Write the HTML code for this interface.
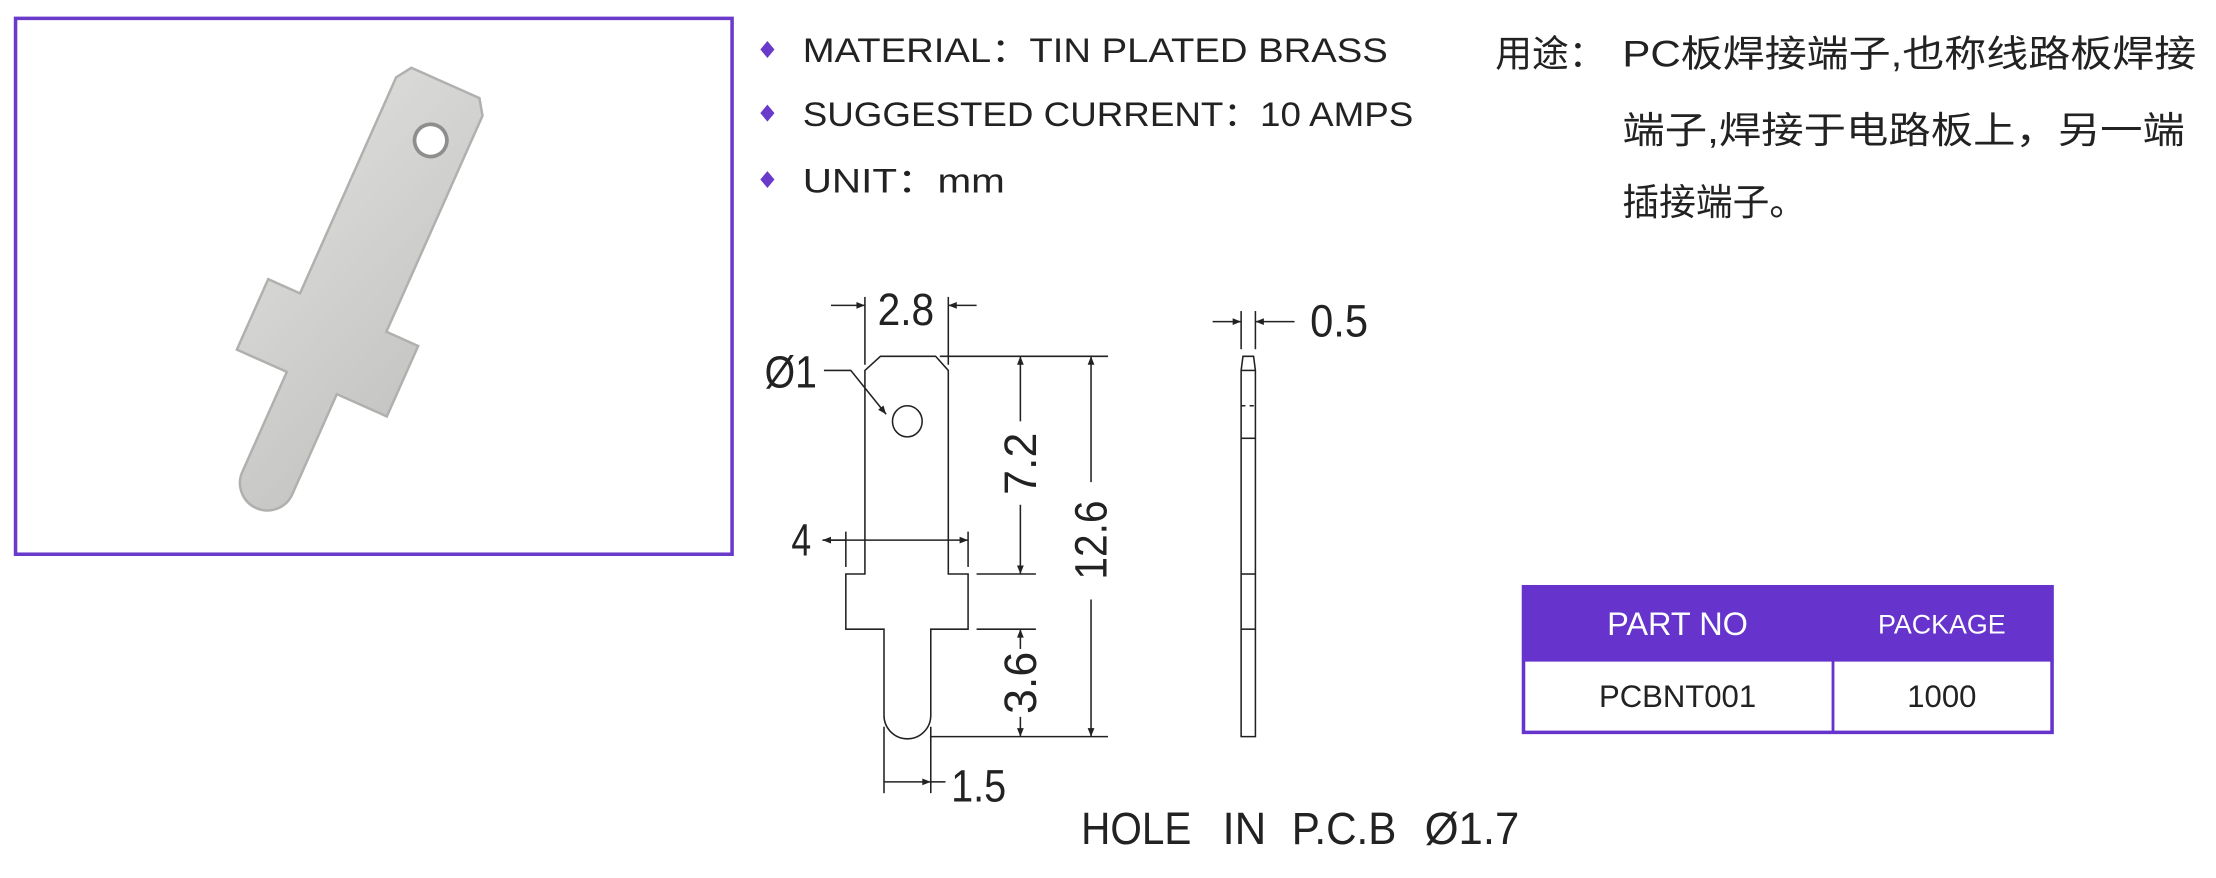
<!DOCTYPE html>
<html><head><meta charset="utf-8"><style>
html,body{margin:0;padding:0;background:#fff;}
svg{display:block;}
</style></head><body>
<svg width="2216" height="878" viewBox="0 0 1568 621" preserveAspectRatio="none" xmlns="http://www.w3.org/2000/svg">
<defs>
<marker id="ar" viewBox="0 0 10 10" refX="10" refY="5" markerWidth="10" markerHeight="6" orient="auto-start-reverse" markerUnits="userSpaceOnUse"><path d="M0,1 L10,5 L0,9 z" fill="#222"/></marker>
<linearGradient id="mg" x1="0" y1="0" x2="1" y2="1"><stop offset="0" stop-color="#dcdcda"/><stop offset="1" stop-color="#c2c2c0"/></linearGradient>
</defs>
<rect x="0" y="0" width="1568" height="621" fill="#fff"/>
<rect x="11" y="13" width="507" height="379" fill="#fff" stroke="#6a3acb" stroke-width="2.5"/>
<g transform="translate(250,205) rotate(24) scale(0.88)">
<path d="M-30,-182 L30,-182 L38,-170 L38,20 L66,20 L66,82 L22,82 L22,170 A22,22 0 0 1 -22,170 L-22,82 L-66,82 L-66,20 L-38,20 L-38,-170 Z" fill="url(#mg)" stroke="#b0b0ae" stroke-width="2"/>
<circle cx="8" cy="-135" r="13" fill="#fff" stroke="#8e8e8c" stroke-width="3"/>
</g>
<g font-family="Liberation Sans, sans-serif" font-size="24" fill="#222">
<path d="M543,29 l5,6 l-5,6 l-5,-6z" fill="#6a3acb"/>
<text x="568" y="44" textLength="414" lengthAdjust="spacingAndGlyphs">MATERIAL：TIN PLATED BRASS</text>
<path d="M543,74 l5,6 l-5,6 l-5,-6z" fill="#6a3acb"/>
<text x="568" y="89" textLength="432" lengthAdjust="spacingAndGlyphs">SUGGESTED CURRENT：10 AMPS</text>
<path d="M543,121 l5,6 l-5,6 l-5,-6z" fill="#6a3acb"/>
<text x="568" y="136" textLength="143" lengthAdjust="spacingAndGlyphs">UNIT：mm</text>
</g>
<g font-family="Liberation Sans, 'Noto Sans CJK SC', sans-serif" font-size="26" fill="#222">
<text x="1058" y="47">用途：</text>
<text x="1148" y="47" textLength="406" lengthAdjust="spacingAndGlyphs">PC板焊接端子,也称线路板焊接</text>
<text x="1148" y="101" textLength="398" lengthAdjust="spacingAndGlyphs">端子,焊接于电路板上，另一端</text>
<text x="1148" y="152">插接端子。</text>
</g>
<rect x="1078" y="415" width="374" height="52" fill="#6633cc"/>
<rect x="1078" y="415" width="374" height="103" fill="none" stroke="#6633cc" stroke-width="2.5"/>
<line x1="1078" y1="467" x2="1452" y2="467" stroke="#6633cc" stroke-width="2"/>
<line x1="1297" y1="467" x2="1297" y2="518" stroke="#6633cc" stroke-width="2"/>
<g font-family="Liberation Sans, sans-serif" text-anchor="middle">
<text x="1187" y="449" font-size="23" fill="#fff">PART NO</text>
<text x="1374" y="448" font-size="19" fill="#fff">PACKAGE</text>
<text x="1187" y="500" font-size="22" fill="#222">PCBNT001</text>
<text x="1374" y="500" font-size="22" fill="#222">1000</text>
</g>
<g stroke="#222" stroke-width="1.1" fill="none">
<path d="M623,252 L662,252 L671,262 L671,406 L685,406 L685,445 L658.6,445 L658.6,506 A16.5,16.5 0 0 1 625.5,506 L625.5,445 L598.5,445 L598.5,406 L612,406 L612,262 Z"/>
<ellipse cx="642" cy="298" rx="10.5" ry="11"/>
<polyline points="583,262 602,262 627,293" marker-end="url(#ar)"/>
<line x1="612" y1="210" x2="612" y2="258"/>
<line x1="671" y1="210" x2="671" y2="258"/>
<line x1="588" y1="216" x2="612" y2="216" marker-end="url(#ar)"/>
<line x1="691" y1="216" x2="671" y2="216" marker-end="url(#ar)"/>
<line x1="665" y1="252" x2="784" y2="252"/>
<line x1="691" y1="406" x2="733" y2="406"/>
<line x1="691" y1="445" x2="733" y2="445"/>
<line x1="658" y1="521" x2="784" y2="521"/>
<line x1="722" y1="252" x2="722" y2="298" marker-start="url(#ar)"/>
<line x1="722" y1="357" x2="722" y2="406" marker-end="url(#ar)"/>
<line x1="772" y1="252" x2="772" y2="341" marker-start="url(#ar)"/>
<line x1="772" y1="424" x2="772" y2="521" marker-end="url(#ar)"/>
<line x1="722" y1="445" x2="722" y2="459" marker-start="url(#ar)"/>
<line x1="722" y1="507" x2="722" y2="521" marker-end="url(#ar)"/>
<line x1="598.5" y1="376" x2="598.5" y2="401"/>
<line x1="685" y1="376" x2="685" y2="401"/>
<line x1="582" y1="382" x2="612" y2="382" marker-start="url(#ar)"/>
<line x1="612" y1="382" x2="685" y2="382" marker-end="url(#ar)"/>
<line x1="582" y1="382" x2="598.5" y2="382"/>
<line x1="625.5" y1="514" x2="625.5" y2="561"/>
<line x1="658.6" y1="514" x2="658.6" y2="561"/>
<line x1="625.5" y1="553" x2="658.6" y2="553" marker-end="url(#ar)"/>
<line x1="658.6" y1="553" x2="669" y2="553"/>
<path d="M879.5,252 L887,252 L888.3,262 L888.3,521 L878.2,521 L878.2,262 Z"/>
<line x1="878.2" y1="262" x2="888.3" y2="262"/>
<line x1="878.2" y1="287" x2="888.3" y2="287" stroke-dasharray="3,3"/>
<line x1="878.2" y1="310" x2="888.3" y2="310"/>
<line x1="878.2" y1="406" x2="888.3" y2="406"/>
<line x1="878.2" y1="445" x2="888.3" y2="445"/>
<line x1="878.2" y1="220" x2="878.2" y2="247"/>
<line x1="888.3" y1="220" x2="888.3" y2="247"/>
<line x1="858" y1="227.5" x2="878.2" y2="227.5" marker-end="url(#ar)"/>
<line x1="916" y1="227.5" x2="888.3" y2="227.5" marker-end="url(#ar)"/>
</g>
<g font-family="Liberation Sans, sans-serif" font-size="32" fill="#222">
<text x="621" y="230" textLength="40" lengthAdjust="spacingAndGlyphs">2.8</text>
<text x="541" y="274" textLength="37" lengthAdjust="spacingAndGlyphs">Ø1</text>
<text x="560" y="393" textLength="14" lengthAdjust="spacingAndGlyphs">4</text>
<text x="673" y="567" textLength="39" lengthAdjust="spacingAndGlyphs">1.5</text>
<text x="927" y="238" textLength="41" lengthAdjust="spacingAndGlyphs">0.5</text>
<text transform="translate(733,328) rotate(-90)" text-anchor="middle" textLength="44" lengthAdjust="spacingAndGlyphs">7.2</text>
<text transform="translate(783,382) rotate(-90)" text-anchor="middle" textLength="56" lengthAdjust="spacingAndGlyphs">12.6</text>
<text transform="translate(733,483) rotate(-90)" text-anchor="middle" textLength="44" lengthAdjust="spacingAndGlyphs">3.6</text>
<text x="765" y="597" textLength="78" lengthAdjust="spacingAndGlyphs">HOLE</text>
<text x="865" y="597" textLength="31" lengthAdjust="spacingAndGlyphs">IN</text>
<text x="914" y="597" textLength="74" lengthAdjust="spacingAndGlyphs">P.C.B</text>
<text x="1008" y="597" textLength="67" lengthAdjust="spacingAndGlyphs">Ø1.7</text>
</g>
</svg>
</body></html>
